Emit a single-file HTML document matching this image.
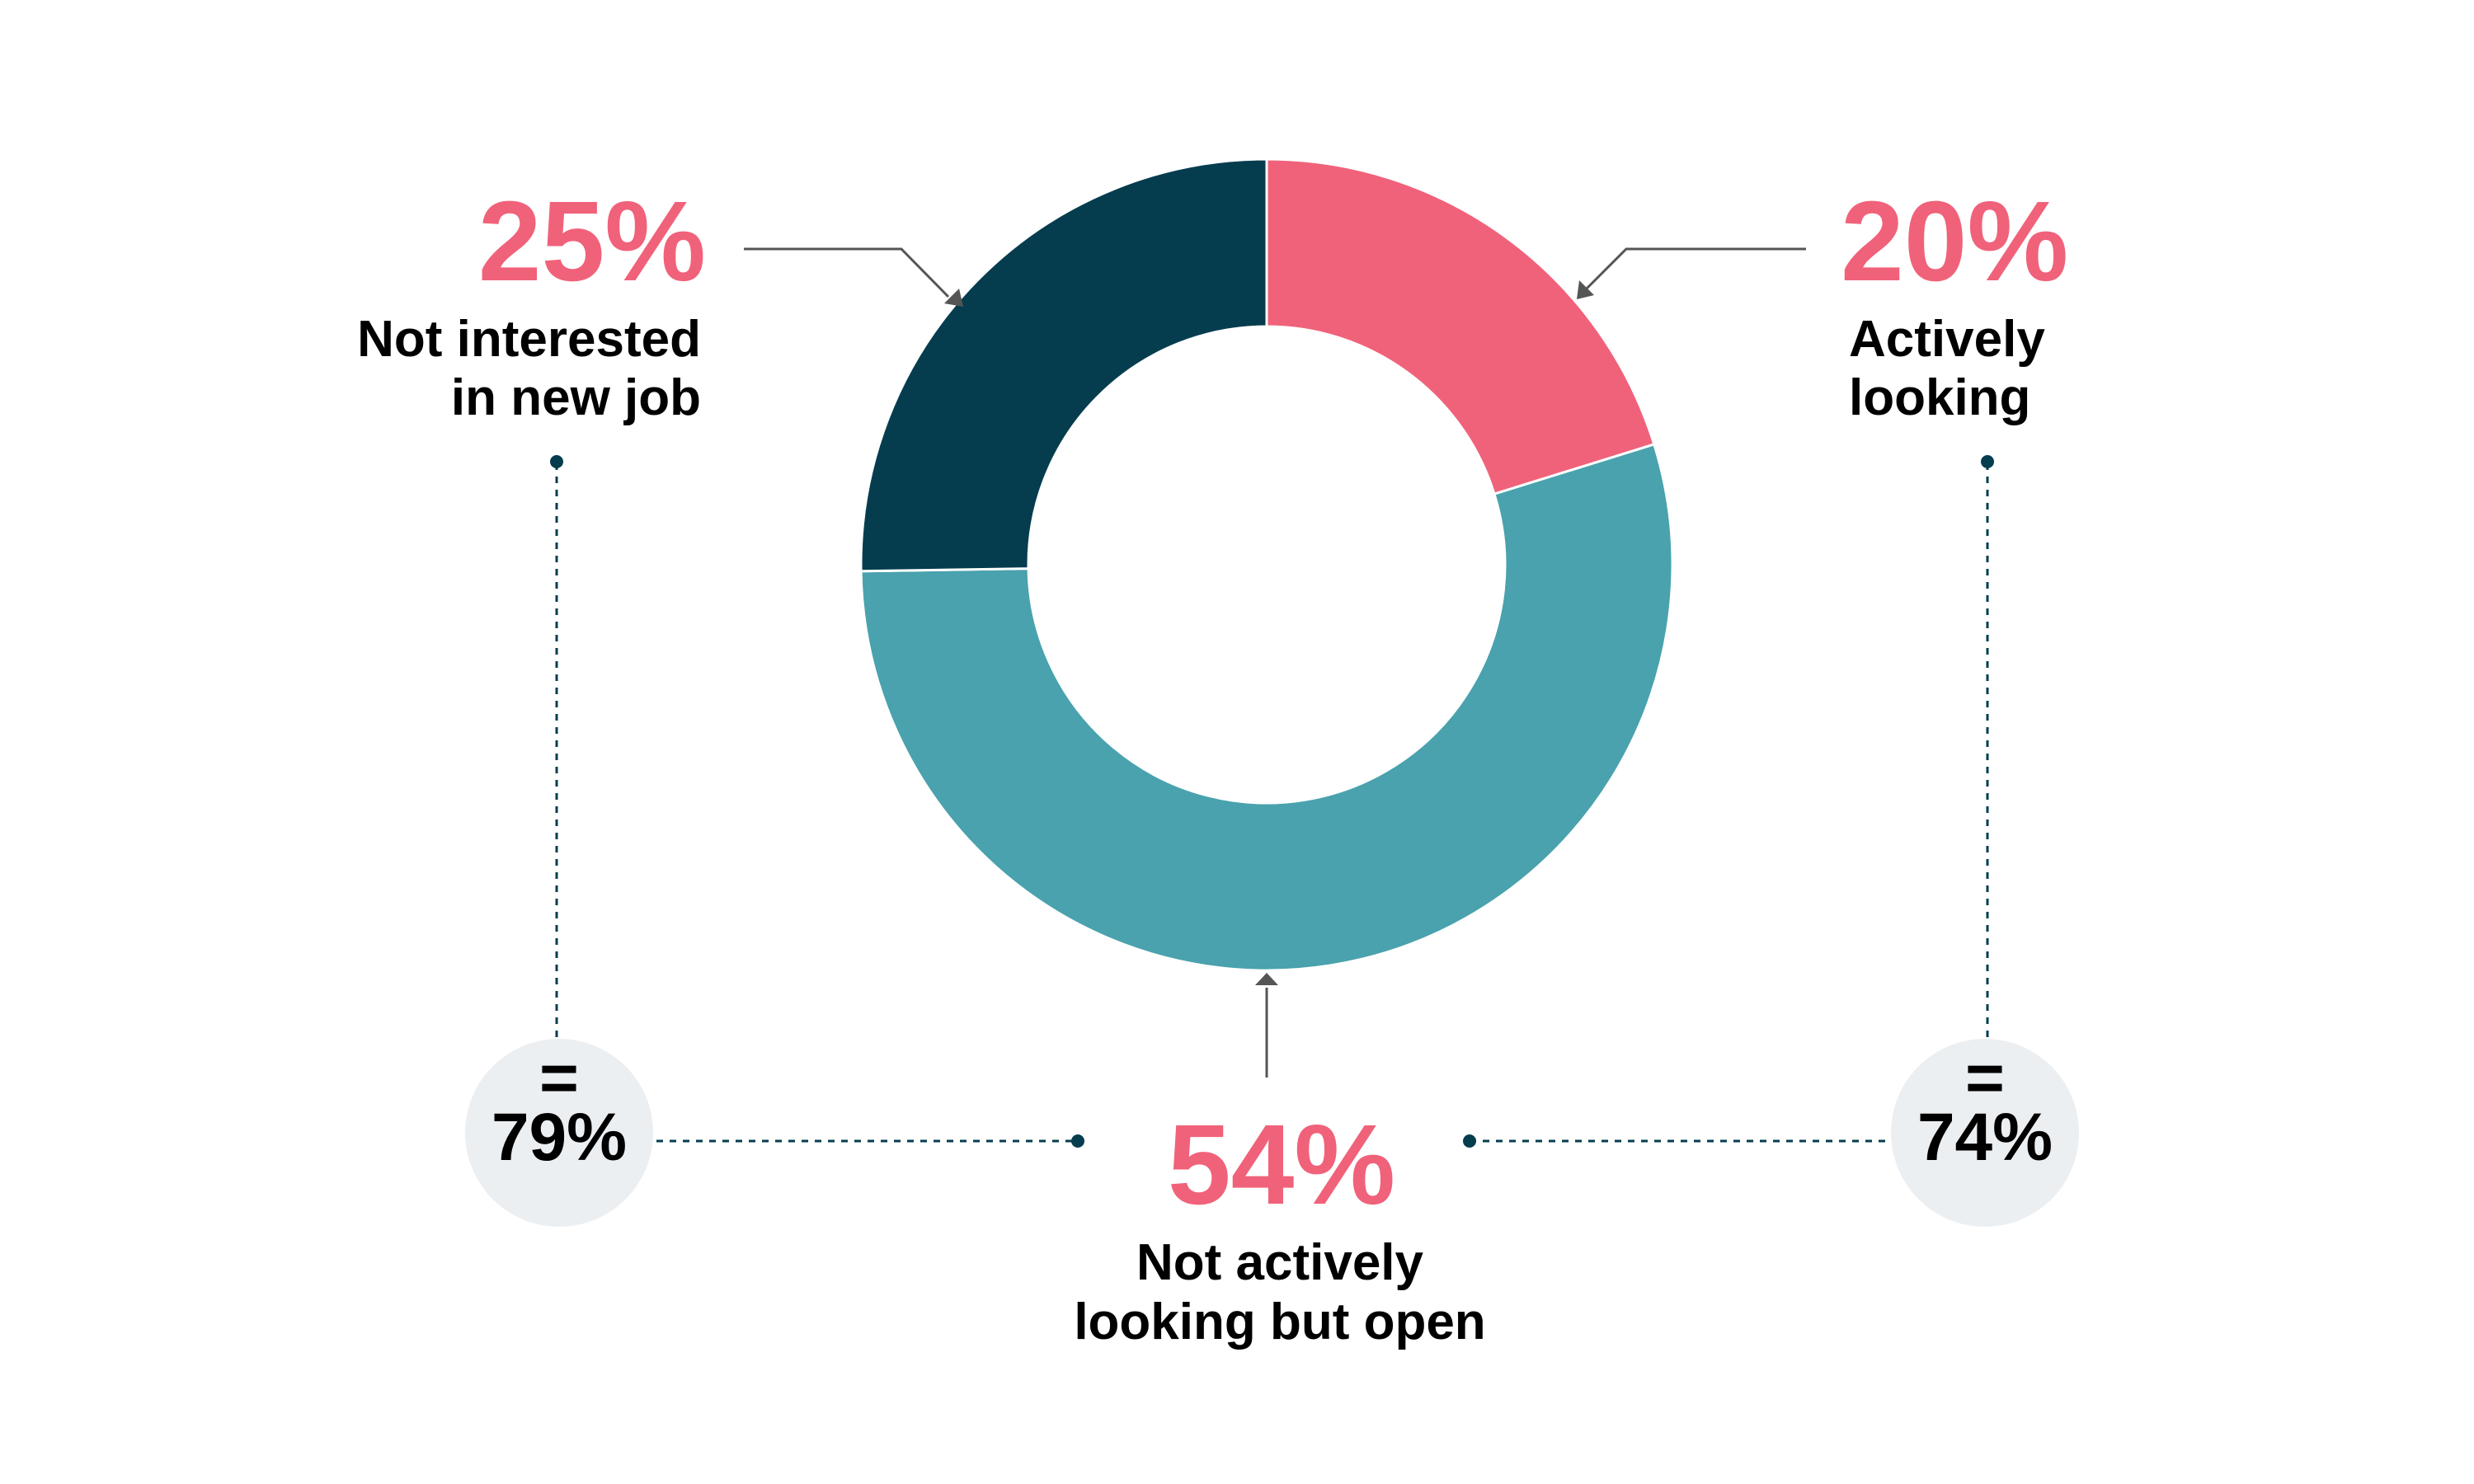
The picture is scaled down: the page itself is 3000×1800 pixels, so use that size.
<!DOCTYPE html>
<html><head><meta charset="utf-8"><style>
html,body{margin:0;padding:0;background:#fff;}
svg{display:block;font-family:"Liberation Sans",sans-serif;}
</style></head><body>
<svg id="chart" width="3000" height="1800" viewBox="0 0 3000 1800">
<g id="slices"></g>
<g fill="none" stroke="#555" stroke-width="3">
 <polyline points="902,302 1093,302 1150,360"/>
 <polygon fill="#555" stroke="none" points="1168,372 1145,368 1163,350"/>
 <polyline points="2190,302 1972,302 1918,356"/>
 <polygon fill="#555" stroke="none" points="1912,363 1915,340 1933,358"/>
 <line x1="1536" y1="1307" x2="1536" y2="1198"/>
 <polygon fill="#555" stroke="none" points="1536,1180 1522,1195 1550,1195"/>
</g>
<g stroke="#053D4F" stroke-width="3" stroke-dasharray="8,8" fill="none">
 <line x1="675" y1="562" x2="675" y2="1258"/>
 <line x1="2410" y1="562" x2="2410" y2="1258"/>
 <line x1="796" y1="1384" x2="1307" y2="1384"/>
 <line x1="1782" y1="1384" x2="2293" y2="1384"/>
</g>
<g fill="#053D4F">
 <circle cx="675" cy="560" r="8"/>
 <circle cx="2410" cy="560" r="8"/>
 <circle cx="1307" cy="1384" r="8"/>
 <circle cx="1782" cy="1384" r="8"/>
</g>
<circle cx="678" cy="1374" r="114" fill="#ECEFF2"/>
<circle cx="2407" cy="1374" r="114" fill="#ECEFF2"/>
<g font-weight="bold" fill="#000" text-anchor="middle" font-size="82">
 <text x="678" y="1335">=</text>
 <text x="678" y="1407">79%</text>
 <text x="2407" y="1335">=</text>
 <text x="2407" y="1407">74%</text>
</g>
<g font-weight="bold">
 <text x="856" y="340" text-anchor="end" font-size="138" fill="#F0627A">25%</text>
 <text x="850" y="432" text-anchor="end" font-size="62" fill="#000">Not interested</text>
 <text x="850" y="503" text-anchor="end" font-size="62" fill="#000">in new job</text>
 <text x="2232" y="340" font-size="138" fill="#F0627A">20%</text>
 <text x="2242" y="432" font-size="62" fill="#000">Actively</text>
 <text x="2242" y="503" font-size="62" fill="#000">looking</text>
 <text x="1554" y="1460" text-anchor="middle" font-size="138" fill="#F0627A">54%</text>
 <text x="1552" y="1552" text-anchor="middle" font-size="62" fill="#000">Not actively</text>
 <text x="1552" y="1624" text-anchor="middle" font-size="62" fill="#000">looking but open</text>
</g>
</svg>
<script>
const categories = ["Actively looking", "Not actively looking but open", "Not interested in new job"];
const values = [20, 54, 25];
const colors = ["#F0627A", "#49A2AD", "#053D4F"];
const cx = 1536, cy = 685, rOut = 492, rIn = 289;
const total = values.reduce((a, b) => a + b, 0);
function pt(r, a) { return [cx + r * Math.sin(a), cy - r * Math.cos(a)]; }
const g = document.getElementById('slices');
let start = 0;
values.forEach((v, i) => {
  const end = start + v / total * 2 * Math.PI;
  const large = (end - start) > Math.PI ? 1 : 0;
  const [x1, y1] = pt(rOut, start), [x2, y2] = pt(rOut, end);
  const [x3, y3] = pt(rIn, end), [x4, y4] = pt(rIn, start);
  const p = document.createElementNS('http://www.w3.org/2000/svg', 'path');
  p.setAttribute('d', `M${x1},${y1} A${rOut},${rOut} 0 ${large} 1 ${x2},${y2} L${x3},${y3} A${rIn},${rIn} 0 ${large} 0 ${x4},${y4} Z`);
  p.setAttribute('fill', colors[i]);
  p.setAttribute('stroke', '#fff');
  p.setAttribute('stroke-width', '3');
  
  
  g.appendChild(p);
  start = end;
});
</script>
</body></html>
